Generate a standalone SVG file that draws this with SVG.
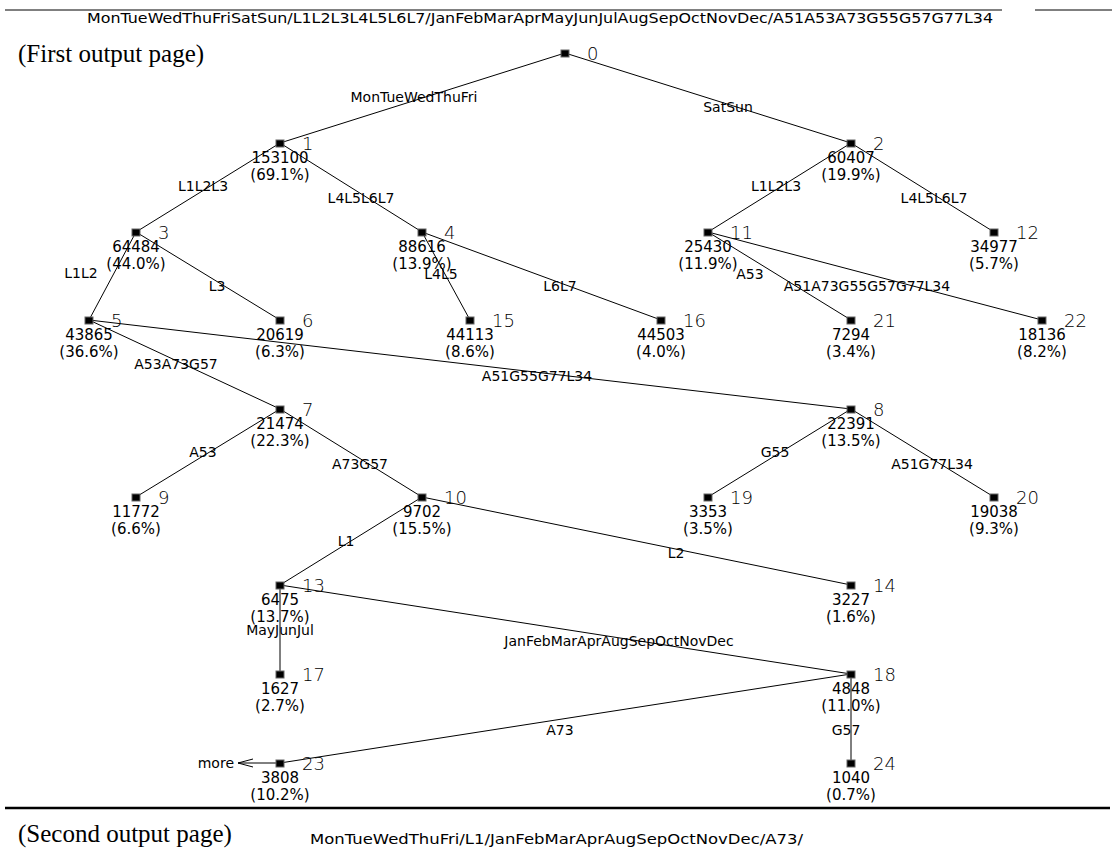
<svg xmlns="http://www.w3.org/2000/svg" width="1112" height="853" viewBox="0 0 1112 853">
  <style>
    .lbl { font-family: "DejaVu Sans", "Liberation Sans", sans-serif; font-size: 14px; fill: #000; }
    .mid { text-anchor: middle; }
    .cnt { font-family: "DejaVu Sans", "Liberation Sans", sans-serif; font-size: 15px; fill: #000; text-anchor: middle; }
    .num { font-family: "DejaVu Sans", "Liberation Sans", sans-serif; font-size: 18px; font-weight: 200; fill: #000; }
    .page { font-family: "Liberation Serif", "Times New Roman", serif; font-size: 25px; fill: #000; }
    .edge { stroke: #000; stroke-width: 1; fill: none; }
    .box { fill: #000; stroke: #666; stroke-width: 1; }
  </style>
  <defs>
    <rect id="sq" class="box" x="-4" y="-3" width="8" height="7"/>
  </defs>
  <rect width="1112" height="853" fill="#fff"/>

  <!-- page header -->
  <g id="header">
    <line x1="5" y1="10" x2="1002" y2="10" stroke="#000" stroke-width="1"/>
    <line x1="1035" y1="10" x2="1112" y2="10" stroke="#000" stroke-width="1"/>
    <text class="lbl" x="87" y="23" textLength="906" lengthAdjust="spacingAndGlyphs">MonTueWedThuFriSatSun/L1L2L3L4L5L6L7/JanFebMarAprMayJunJulAugSepOctNovDec/A51A53A73G55G57G77L34</text>
    <text class="page" x="18" y="62">(First output page)</text>
  </g>

  <!-- connectors -->
  <g id="connectors">
    <line class="edge" x1="565" y1="53" x2="280" y2="143"/>
    <line class="edge" x1="565" y1="53" x2="851" y2="143"/>
    <line class="edge" x1="280" y1="143" x2="136" y2="232"/>
    <line class="edge" x1="280" y1="143" x2="422" y2="232"/>
    <line class="edge" x1="851" y1="143" x2="708" y2="232"/>
    <line class="edge" x1="851" y1="143" x2="994" y2="232"/>
    <line class="edge" x1="136" y1="232" x2="89" y2="320"/>
    <line class="edge" x1="136" y1="232" x2="280" y2="320"/>
    <line class="edge" x1="422" y1="232" x2="470" y2="320"/>
    <line class="edge" x1="422" y1="232" x2="661" y2="320"/>
    <line class="edge" x1="708" y1="232" x2="851" y2="320"/>
    <line class="edge" x1="708" y1="232" x2="1042" y2="320"/>
    <line class="edge" x1="89" y1="320" x2="280" y2="409"/>
    <line class="edge" x1="89" y1="320" x2="851" y2="409"/>
    <line class="edge" x1="280" y1="409" x2="136" y2="497"/>
    <line class="edge" x1="280" y1="409" x2="422" y2="497"/>
    <line class="edge" x1="851" y1="409" x2="708" y2="497"/>
    <line class="edge" x1="851" y1="409" x2="994" y2="497"/>
    <line class="edge" x1="422" y1="497" x2="280" y2="585"/>
    <line class="edge" x1="422" y1="497" x2="851" y2="585"/>
    <line class="edge" x1="280" y1="585" x2="280" y2="674"/>
    <line class="edge" x1="280" y1="585" x2="851" y2="674"/>
    <line class="edge" x1="851" y1="674" x2="280" y2="763"/>
    <line class="edge" x1="851" y1="674" x2="851" y2="763"/>
    <!-- continuation on the next page -->
    <line class="edge" x1="276" y1="763" x2="238" y2="763"/>
    <polyline class="edge" points="253,759 238,763 253,767"/>

    <text class="lbl mid" x="414" y="102">MonTueWedThuFri</text>
    <text class="lbl mid" x="728" y="112">SatSun</text>
    <text class="lbl mid" x="203" y="191">L1L2L3</text>
    <text class="lbl mid" x="361" y="203">L4L5L6L7</text>
    <text class="lbl mid" x="776" y="191">L1L2L3</text>
    <text class="lbl mid" x="934" y="203">L4L5L6L7</text>
    <text class="lbl mid" x="81" y="278">L1L2</text>
    <text class="lbl mid" x="217" y="291">L3</text>
    <text class="lbl mid" x="441" y="279">L4L5</text>
    <text class="lbl mid" x="560" y="291">L6L7</text>
    <text class="lbl mid" x="750" y="279">A53</text>
    <text class="lbl mid" x="867" y="291">A51A73G55G57G77L34</text>
    <text class="lbl mid" x="176" y="369">A53A73G57</text>
    <text class="lbl mid" x="537" y="381">A51G55G77L34</text>
    <text class="lbl mid" x="203" y="457">A53</text>
    <text class="lbl mid" x="360" y="469">A73G57</text>
    <text class="lbl mid" x="775" y="457">G55</text>
    <text class="lbl mid" x="932" y="469">A51G77L34</text>
    <text class="lbl mid" x="346" y="546">L1</text>
    <text class="lbl mid" x="676" y="558">L2</text>
    <text class="lbl mid" x="280" y="635">MayJunJul</text>
    <text class="lbl mid" x="619" y="646">JanFebMarAprAugSepOctNovDec</text>
    <text class="lbl mid" x="560" y="735">A73</text>
    <text class="lbl mid" x="846" y="735">G57</text>
    <text class="lbl" x="234" y="768" text-anchor="end">more</text>
  </g>

  <!-- nodes -->
  <g id="n0" transform="translate(565,53)"><use href="#sq"/><text class="num" x="22" y="7">0</text></g>
  <g id="n1" transform="translate(280,143)"><use href="#sq"/><text class="num" x="22" y="7">1</text><text class="cnt" y="20">153100</text><text class="cnt" y="37">(69.1%)</text></g>
  <g id="n2" transform="translate(851,143)"><use href="#sq"/><text class="num" x="22" y="7">2</text><text class="cnt" y="20">60407</text><text class="cnt" y="37">(19.9%)</text></g>
  <g id="n3" transform="translate(136,232)"><use href="#sq"/><text class="num" x="22" y="7">3</text><text class="cnt" y="20">64484</text><text class="cnt" y="37">(44.0%)</text></g>
  <g id="n4" transform="translate(422,232)"><use href="#sq"/><text class="num" x="22" y="7">4</text><text class="cnt" y="20">88616</text><text class="cnt" y="37">(13.9%)</text></g>
  <g id="n11" transform="translate(708,232)"><use href="#sq"/><text class="num" x="22" y="7">11</text><text class="cnt" y="20">25430</text><text class="cnt" y="37">(11.9%)</text></g>
  <g id="n12" transform="translate(994,232)"><use href="#sq"/><text class="num" x="22" y="7">12</text><text class="cnt" y="20">34977</text><text class="cnt" y="37">(5.7%)</text></g>
  <g id="n5" transform="translate(89,320)"><use href="#sq"/><text class="num" x="22" y="7">5</text><text class="cnt" y="20">43865</text><text class="cnt" y="37">(36.6%)</text></g>
  <g id="n6" transform="translate(280,320)"><use href="#sq"/><text class="num" x="22" y="7">6</text><text class="cnt" y="20">20619</text><text class="cnt" y="37">(6.3%)</text></g>
  <g id="n15" transform="translate(470,320)"><use href="#sq"/><text class="num" x="22" y="7">15</text><text class="cnt" y="20">44113</text><text class="cnt" y="37">(8.6%)</text></g>
  <g id="n16" transform="translate(661,320)"><use href="#sq"/><text class="num" x="22" y="7">16</text><text class="cnt" y="20">44503</text><text class="cnt" y="37">(4.0%)</text></g>
  <g id="n21" transform="translate(851,320)"><use href="#sq"/><text class="num" x="22" y="7">21</text><text class="cnt" y="20">7294</text><text class="cnt" y="37">(3.4%)</text></g>
  <g id="n22" transform="translate(1042,320)"><use href="#sq"/><text class="num" x="22" y="7">22</text><text class="cnt" y="20">18136</text><text class="cnt" y="37">(8.2%)</text></g>
  <g id="n7" transform="translate(280,409)"><use href="#sq"/><text class="num" x="22" y="7">7</text><text class="cnt" y="20">21474</text><text class="cnt" y="37">(22.3%)</text></g>
  <g id="n8" transform="translate(851,409)"><use href="#sq"/><text class="num" x="22" y="7">8</text><text class="cnt" y="20">22391</text><text class="cnt" y="37">(13.5%)</text></g>
  <g id="n9" transform="translate(136,497)"><use href="#sq"/><text class="num" x="22" y="7">9</text><text class="cnt" y="20">11772</text><text class="cnt" y="37">(6.6%)</text></g>
  <g id="n10" transform="translate(422,497)"><use href="#sq"/><text class="num" x="22" y="7">10</text><text class="cnt" y="20">9702</text><text class="cnt" y="37">(15.5%)</text></g>
  <g id="n19" transform="translate(708,497)"><use href="#sq"/><text class="num" x="22" y="7">19</text><text class="cnt" y="20">3353</text><text class="cnt" y="37">(3.5%)</text></g>
  <g id="n20" transform="translate(994,497)"><use href="#sq"/><text class="num" x="22" y="7">20</text><text class="cnt" y="20">19038</text><text class="cnt" y="37">(9.3%)</text></g>
  <g id="n13" transform="translate(280,585)"><use href="#sq"/><text class="num" x="22" y="7">13</text><text class="cnt" y="20">6475</text><text class="cnt" y="37">(13.7%)</text></g>
  <g id="n14" transform="translate(851,585)"><use href="#sq"/><text class="num" x="22" y="7">14</text><text class="cnt" y="20">3227</text><text class="cnt" y="37">(1.6%)</text></g>
  <g id="n17" transform="translate(280,674)"><use href="#sq"/><text class="num" x="22" y="7">17</text><text class="cnt" y="20">1627</text><text class="cnt" y="37">(2.7%)</text></g>
  <g id="n18" transform="translate(851,674)"><use href="#sq"/><text class="num" x="22" y="7">18</text><text class="cnt" y="20">4848</text><text class="cnt" y="37">(11.0%)</text></g>
  <g id="n23" transform="translate(280,763)"><use href="#sq"/><text class="num" x="22" y="7">23</text><text class="cnt" y="20">3808</text><text class="cnt" y="37">(10.2%)</text></g>
  <g id="n24" transform="translate(851,763)"><use href="#sq"/><text class="num" x="22" y="7">24</text><text class="cnt" y="20">1040</text><text class="cnt" y="37">(0.7%)</text></g>

  <!-- page break and second page heading -->
  <g id="footer">
    <line x1="5" y1="808" x2="1110" y2="808" stroke="#000" stroke-width="2.5"/>
    <text class="page" x="18" y="842">(Second output page)</text>
    <text class="lbl" x="310" y="844" textLength="493" lengthAdjust="spacingAndGlyphs">MonTueWedThuFri/L1/JanFebMarAprAugSepOctNovDec/A73/</text>
  </g>
</svg>
